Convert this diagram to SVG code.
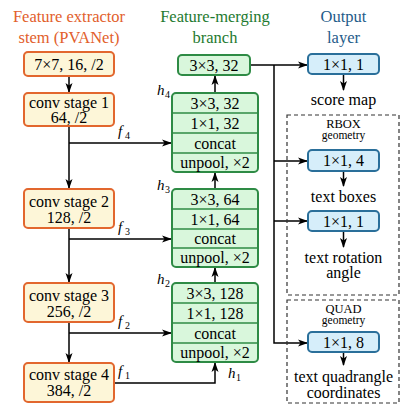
<svg xmlns="http://www.w3.org/2000/svg" width="408" height="412" viewBox="0 0 408 412" font-family="'Liberation Serif', 'DejaVu Serif', serif">
<defs>
<marker id="ah" markerWidth="10" markerHeight="8" refX="9" refY="4" orient="auto" markerUnits="userSpaceOnUse">
<path d="M0,0.5 L10,4 L0,7.5 L2.5,4 z" fill="#000"/>
</marker>
<style>
text{font-family:'Liberation Serif','DejaVu Serif',serif;font-size:16px;fill:#000;text-anchor:middle}
.hdr{font-size:16.5px}
.or{fill:#e2602c}
.gr{fill:#1e7a30}
.bl{fill:#1f5c8a}
.ob{fill:#fdf6d8;stroke:#e2672e;stroke-width:2}
.gb{fill:#d9f7dc;stroke:#2e8b45;stroke-width:2}
.gl{stroke:#2e8b45;stroke-width:1.5;fill:none}
.bb{fill:#d6eefa;stroke:#2a6f9a;stroke-width:2}
.dash{fill:none;stroke:#333;stroke-width:1.2;stroke-dasharray:4,3}
.ar{fill:none;stroke:#000;stroke-width:1.5;marker-end:url(#ah)}
.it{font-style:italic;text-anchor:start;font-size:15px}
.sub{text-anchor:start;font-size:10px}
.sm{font-size:11.5px}
.md{font-size:12.5px}
</style>
</defs>

<g id="headers">
<text class="hdr or" x="69" y="22">Feature extractor</text>
<text class="hdr or" x="69" y="43">stem (PVANet)</text>
<text class="hdr gr" x="215" y="22">Feature-merging</text>
<text class="hdr gr" x="215" y="43">branch</text>
<text class="hdr bl" x="343.5" y="22">Output</text>
<text class="hdr bl" x="343.5" y="43">layer</text>
</g>

<g id="connectors">
<line class="ar" x1="69" y1="76" x2="69" y2="92"/>
<line class="ar" x1="69" y1="126" x2="69" y2="188"/>
<line class="ar" x1="69" y1="228" x2="69" y2="282"/>
<line class="ar" x1="69" y1="322" x2="69" y2="362"/>
<polyline class="ar" points="69,143 171,143"/>
<polyline class="ar" points="69,239 171,239"/>
<polyline class="ar" points="69,333 171,333"/>
<polyline class="ar" points="114,383 215,383 215,363"/>
<line class="ar" x1="215" y1="93" x2="215" y2="76"/>
<line class="ar" x1="215" y1="189" x2="215" y2="173"/>
<line class="ar" x1="215" y1="283" x2="215" y2="268"/>
<line class="ar" x1="250" y1="65" x2="307" y2="65"/>
<polyline class="ar" points="274,65 274,343 307,343"/>
<line class="ar" x1="274" y1="161" x2="307" y2="161"/>
<line class="ar" x1="274" y1="221" x2="307" y2="221"/>
<line class="ar" x1="343.5" y1="74" x2="343.5" y2="90"/>
<line class="ar" x1="343.5" y1="171" x2="343.5" y2="186"/>
<line class="ar" x1="343.5" y1="231" x2="343.5" y2="247"/>
<line class="ar" x1="343.5" y1="352" x2="343.5" y2="365"/>
</g>

<g id="labels">
<text class="it" x="118" y="136">f</text><text class="sub" x="125" y="139">4</text>
<text class="it" x="118" y="232">f</text><text class="sub" x="125" y="235">3</text>
<text class="it" x="118" y="326">f</text><text class="sub" x="125" y="329">2</text>
<text class="it" x="118" y="376">f</text><text class="sub" x="125" y="379">1</text>
<text class="it" x="157" y="95">h</text><text class="sub" x="165" y="98">4</text>
<text class="it" x="157" y="190">h</text><text class="sub" x="165" y="193">3</text>
<text class="it" x="157" y="284">h</text><text class="sub" x="165" y="287">2</text>
<text class="it" x="228" y="378">h</text><text class="sub" x="236" y="381">1</text>
</g>

<g id="stem0"><rect class="ob" x="24" y="52" width="90" height="24" rx="4"/><text x="69" y="69.5">7×7, 16, /2</text></g>
<g id="stage1"><rect class="ob" x="24" y="93" width="90" height="33" rx="4"/><text x="69" y="107.5">conv stage 1</text><text x="69" y="123">64, /2</text></g>
<g id="stage2"><rect class="ob" x="24" y="189" width="90" height="39" rx="4"/><text x="69" y="206.5">conv stage 2</text><text x="69" y="222.5">128, /2</text></g>
<g id="stage3"><rect class="ob" x="24" y="283" width="90" height="39" rx="4"/><text x="69" y="300.5">conv stage 3</text><text x="69" y="316.5">256, /2</text></g>
<g id="stage4"><rect class="ob" x="24" y="363" width="90" height="39" rx="4"/><text x="69" y="380">conv stage 4</text><text x="69" y="396">384, /2</text></g>

<g id="merge-top"><rect class="gb" x="178" y="55" width="72" height="20" rx="4"/><text x="214" y="70.5">3×3, 32</text></g>

<g id="merge4">
<rect class="gb" x="172" y="93" width="86" height="79" rx="4"/>
<line class="gl" x1="172" y1="113" x2="258" y2="113"/>
<line class="gl" x1="172" y1="133" x2="258" y2="133"/>
<line class="gl" x1="172" y1="153" x2="258" y2="153"/>
<text x="215" y="108.5">3×3, 32</text>
<text x="215" y="128.5">1×1, 32</text>
<text x="215" y="148.5">concat</text>
<text x="215" y="168">unpool, ×2</text>
</g>

<g id="merge3">
<rect class="gb" x="172" y="189" width="86" height="78" rx="4"/>
<line class="gl" x1="172" y1="209" x2="258" y2="209"/>
<line class="gl" x1="172" y1="229" x2="258" y2="229"/>
<line class="gl" x1="172" y1="248" x2="258" y2="248"/>
<text x="215" y="204.5">3×3, 64</text>
<text x="215" y="224.5">1×1, 64</text>
<text x="215" y="244">concat</text>
<text x="215" y="263">unpool, ×2</text>
</g>

<g id="merge2">
<rect class="gb" x="172" y="283" width="86" height="79" rx="4"/>
<line class="gl" x1="172" y1="303" x2="258" y2="303"/>
<line class="gl" x1="172" y1="323" x2="258" y2="323"/>
<line class="gl" x1="172" y1="343" x2="258" y2="343"/>
<text x="215" y="298.5">3×3, 128</text>
<text x="215" y="318.5">1×1, 128</text>
<text x="215" y="338.5">concat</text>
<text x="215" y="358">unpool, ×2</text>
</g>

<g id="score">
<rect class="bb" x="308" y="54" width="71" height="20" rx="4"/><text x="343.5" y="69.5">1×1, 1</text>
<text x="343.5" y="105">score map</text>
</g>

<g id="rbox">
<rect class="dash" x="287" y="115" width="112" height="180"/>
<text class="md" x="343.5" y="128">RBOX</text>
<text class="sm" x="343.5" y="139">geometry</text>
<rect class="bb" x="308" y="150" width="71" height="21" rx="4"/><text x="343.5" y="166">1×1, 4</text>
<text x="343.5" y="202">text boxes</text>
<rect class="bb" x="308" y="211" width="71" height="20" rx="4"/><text x="343.5" y="226.5">1×1, 1</text>
<text x="343.5" y="263">text rotation</text>
<text x="343.5" y="278">angle</text>
</g>

<g id="quad">
<rect class="dash" x="287" y="300" width="112" height="103"/>
<text class="md" x="343.5" y="313">QUAD</text>
<text class="sm" x="343.5" y="324">geometry</text>
<rect class="bb" x="308" y="332" width="71" height="20" rx="4"/><text x="343.5" y="347.5">1×1, 8</text>
<text x="343.5" y="382">text quadrangle</text>
<text x="343.5" y="398">coordinates</text>
</g>
</svg>
